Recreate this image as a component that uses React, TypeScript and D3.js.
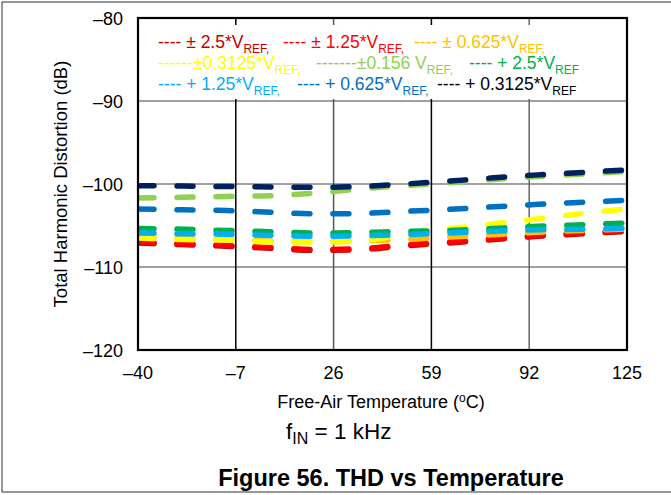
import React from "react";
import * as d3 from "d3";

const temps = [-40, -25, -10, 5, 20, 35, 50, 65, 80, 95, 110, 125];
const xTicks = [-40, -7, 26, 59, 92, 125];
const yTicks = [-80, -90, -100, -110, -120];

const thdDarkRed = [-107.1, -107.3, -107.5, -107.75, -108.0, -107.9, -107.45, -107.1, -106.7, -106.3, -106.0, -105.7];
const thdRed = [-107.0, -107.2, -107.4, -107.65, -107.9, -107.8, -107.35, -107.0, -106.6, -106.2, -105.9, -105.6];
const thdOrange = [-106.4, -106.6, -106.7, -106.9, -106.95, -106.85, -106.65, -106.4, -106.1, -105.8, -105.6, -105.45];
const thdYellow = [-106.5, -106.7, -106.75, -107.0, -107.0, -106.85, -106.1, -105.4, -104.8, -104.2, -103.55, -103.0];
const thdLtGreen = [-101.7, -101.6, -101.5, -101.4, -101.1, -100.6, -100.2, -99.85, -99.45, -99.1, -98.8, -98.5];
const thdGreen = [-105.35, -105.45, -105.6, -105.75, -105.9, -105.85, -105.7, -105.6, -105.35, -105.1, -104.9, -104.7];
const thdLtBlue = [-105.9, -106.0, -106.05, -106.2, -106.3, -106.25, -106.1, -105.9, -105.7, -105.5, -105.45, -105.3];
const thdBlue = [-103.0, -103.1, -103.2, -103.4, -103.6, -103.55, -103.3, -103.05, -102.75, -102.45, -102.2, -101.95];
const thdNavy = [-100.2, -100.25, -100.3, -100.35, -100.4, -100.3, -100.0, -99.65, -99.25, -98.9, -98.6, -98.3];

const seriesList = [
  { values: thdDarkRed, color: "#C00000" },
  { values: thdRed, color: "#FF0000" },
  { values: thdOrange, color: "#FFC000" },
  { values: thdYellow, color: "#FFFF00" },
  { values: thdLtGreen, color: "#92D050" },
  { values: thdGreen, color: "#00B050" },
  { values: thdLtBlue, color: "#00B0F0" },
  { values: thdBlue, color: "#0070C0" },
  { values: thdNavy, color: "#002060" },
];

const legendPrefix = ["---- ± 2.5*V", "---- ± 1.25*V", "---- ± 0.625*V", "------±0.3125*V", "-------±0.156 V", "---- + 2.5*V", "---- + 1.25*V", "---- + 0.625*V", "---- + 0.3125*V"];
const legendSub = ["REF,", "REF,", "REF,", "REF,", "REF,", "REF", "REF,", "REF,", "REF"];
const legendColors = ["#C00000", "#FF0000", "#FFC000", "#FFFF00", "#92D050", "#00B050", "#00B0F0", "#0070C0", "#000000"];
const legendPos = [
  [158, 48], [283, 48], [414, 48],
  [158, 69], [316, 69], [469, 69],
  [158, 90], [297, 90], [437, 90],
];

const W = 671, H = 495;
const L = 138, R = 627, T = 18, B = 350;
const FONT = "Arial, 'Liberation Sans', Helvetica, sans-serif";

export default function App() {
  const x = d3.scaleLinear().domain([-40, 125]).range([L, R]);
  const y = d3.scaleLinear().domain([-120, -80]).range([B, T]);
  const line = d3
    .line<number>()
    .x((_, i) => x(temps[i]))
    .y((d) => y(d))
    .curve(d3.curveMonotoneX);

  const vGridColors = ["#000", "#555", "#000", "#666"];

  return (
    <svg width={W} height={H} style={{ position: "absolute", left: 0, top: 0, background: "#fff" }}>
      <rect x={2} y={2} width={W + 10} height={490} fill="#fff" stroke="#333" strokeWidth={1} />
      <defs>
        <clipPath id="plotclip">
          <rect x={L} y={T} width={R - L} height={B - T} />
        </clipPath>
      </defs>
      {[-90, -100, -110].map((v) => (
        <line key={v} x1={L} x2={R} y1={y(v)} y2={y(v)} stroke="#808080" strokeWidth={1.5} />
      ))}
      {xTicks.slice(1, -1).map((t, i) => (
        <line key={t} x1={x(t)} x2={x(t)} y1={T} y2={B} stroke={vGridColors[i]} strokeWidth={1.5} />
      ))}
      <rect x={143} y={25} width={450} height={74} fill="#fff" />
      <g clipPath="url(#plotclip)">
        {seriesList.map((s, i) => (
          <path
            key={i}
            d={line(s.values) || ""}
            fill="none"
            stroke={s.color}
            strokeWidth={5.5}
            strokeDasharray="16,23"
            strokeLinecap="round"
          />
        ))}
      </g>
      <rect x={L} y={T} width={R - L} height={B - T} fill="none" stroke="#000" strokeWidth={2.2} />
      {yTicks.map((v) => (
        <text key={v} x={123} y={y(v) + 6.5} textAnchor="end" fontFamily={FONT} fontSize={18} fill="#000">
          {"–" + Math.abs(v)}
        </text>
      ))}
      {xTicks.map((t) => (
        <text key={t} x={x(t)} y={379} textAnchor="middle" fontFamily={FONT} fontSize={18} fill="#000">
          {t < 0 ? "–" + Math.abs(t) : String(t)}
        </text>
      ))}
      <text
        transform={`translate(67,${(T + B) / 2}) rotate(-90)`}
        textAnchor="middle"
        fontFamily={FONT}
        fontSize={18.5}
        fill="#000"
      >
        Total Harmonic Distortion (dB)
      </text>
      <text x={381} y={408} textAnchor="middle" fontFamily={FONT} fontSize={18} fill="#000">
        Free-Air Temperature (
        <tspan dy={-6} fontSize={12}>o</tspan>
        <tspan dy={6}>C)</tspan>
      </text>
      <text x={286} y={439} fontFamily={FONT} fontSize={22.5} fill="#000">
        f<tspan dy={5} fontSize={16}>IN</tspan>
        <tspan dy={-5}> = 1 kHz</tspan>
      </text>
      <text x={391} y={486} textAnchor="middle" fontFamily={FONT} fontSize={23.5} fontWeight="bold" fill="#000">
        Figure 56. THD vs Temperature
      </text>
      {legendPrefix.map((p, i) => (
        <text key={i} x={legendPos[i][0]} y={legendPos[i][1]} fontFamily={FONT} fontSize={17.5} fill={legendColors[i]}>
          {p}
          <tspan dy={4.5} fontSize={12}>{legendSub[i]}</tspan>
        </text>
      ))}
    </svg>
  );
}
